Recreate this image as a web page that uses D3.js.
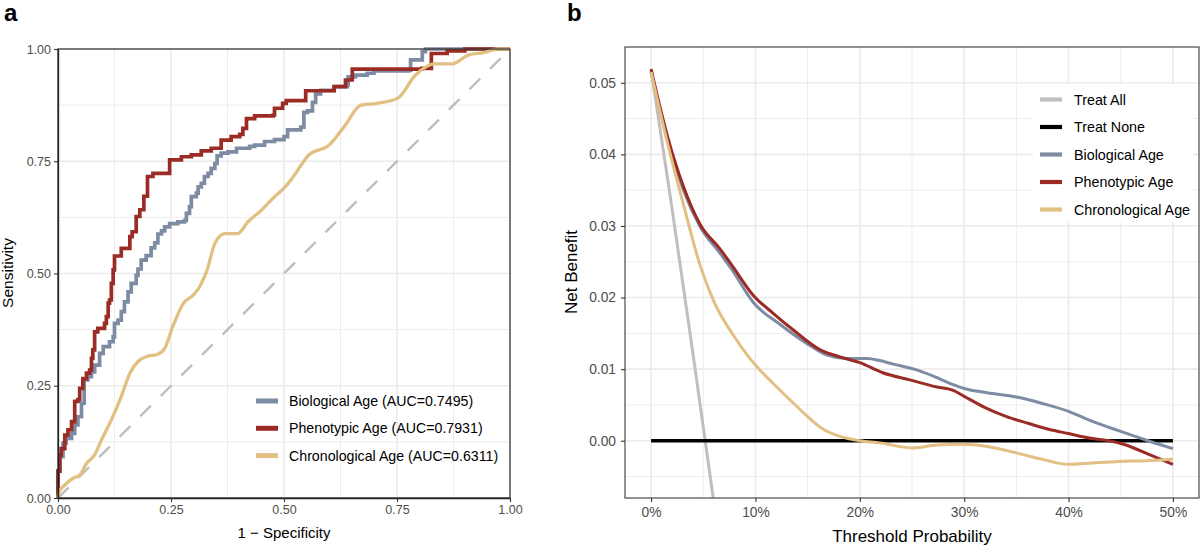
<!DOCTYPE html>
<html>
<head>
<meta charset="utf-8">
<script src="https://cdn.jsdelivr.net/npm/d3@7"></script>
<style>
  body { margin: 0; background: #ffffff; }
  svg { display: block; }
  text { font-family: "Liberation Sans", Arial, Helvetica, sans-serif; }
</style>
</head>
<body>
<script>
// ---------------- DATA ----------------
// Panel a: ROC curves (1 - specificity, sensitivity)
const rocTicks = [0, 0.25, 0.5, 0.75, 1];
const rocMinor = [0.125, 0.375, 0.625, 0.875];

const bioFpr = [0,0,0.004,0.011,0.018,0.030,0.037,0.044,0.052,0.058,0.066,0.074,0.081,0.092,0.100,0.114,0.122,0.125,0.133,0.140,0.147,0.155,0.162,0.173,0.177,0.184,0.195,0.206,0.214,0.221,0.229,0.236,0.247,0.265,0.280,0.284,0.291,0.295,0.306,0.310,0.317,0.324,0.332,0.339,0.347,0.352,0.361,0.376,0.395,0.424,0.435,0.457,0.479,0.500,0.508,0.537,0.544,0.552,0.563,0.570,0.581,0.611,0.640,0.642,0.658,0.684,0.699,0.776,0.780,0.806,0.813,1];
const bioTpr = [0,0.060,0.092,0.122,0.133,0.144,0.163,0.181,0.211,0.263,0.270,0.281,0.296,0.322,0.337,0.348,0.359,0.389,0.396,0.415,0.437,0.459,0.478,0.496,0.510,0.530,0.540,0.557,0.568,0.588,0.595,0.604,0.611,0.615,0.618,0.634,0.649,0.671,0.679,0.693,0.701,0.716,0.723,0.734,0.745,0.762,0.768,0.771,0.779,0.783,0.786,0.794,0.798,0.805,0.820,0.826,0.859,0.862,0.881,0.900,0.908,0.916,0.920,0.938,0.942,0.946,0.951,0.953,0.976,0.994,1,1];

const phenoFpr = [0,0,0.004,0.007,0.015,0.022,0.030,0.037,0.044,0.048,0.055,0.063,0.070,0.074,0.077,0.081,0.088,0.103,0.107,0.111,0.114,0.118,0.122,0.125,0.140,0.159,0.164,0.173,0.181,0.190,0.198,0.210,0.247,0.273,0.295,0.317,0.339,0.361,0.383,0.402,0.409,0.417,0.435,0.476,0.479,0.497,0.505,0.548,0.611,0.636,0.651,0.805,0.826,0.861,0.900,1];
const phenoTpr = [0,0.060,0.096,0.110,0.140,0.152,0.170,0.215,0.219,0.244,0.266,0.278,0.285,0.311,0.330,0.370,0.378,0.389,0.404,0.434,0.441,0.478,0.508,0.539,0.556,0.582,0.593,0.627,0.642,0.672,0.716,0.723,0.753,0.760,0.764,0.773,0.779,0.797,0.805,0.810,0.823,0.845,0.851,0.853,0.868,0.879,0.885,0.907,0.916,0.931,0.955,0.957,0.990,0.996,1,1];

const chronoFpr = [0,0.003,0.015,0.033,0.048,0.063,0.081,0.096,0.118,0.140,0.159,0.177,0.199,0.218,0.236,0.254,0.277,0.299,0.313,0.324,0.330,0.347,0.369,0.398,0.420,0.450,0.479,0.500,0.518,0.555,0.600,0.636,0.670,0.706,0.751,0.791,0.832,0.872,0.909,0.942,0.972,1];
const chronoTpr = [0,0.015,0.029,0.044,0.051,0.077,0.096,0.129,0.174,0.226,0.278,0.304,0.316,0.319,0.333,0.382,0.433,0.452,0.470,0.493,0.508,0.567,0.589,0.589,0.615,0.641,0.671,0.690,0.712,0.764,0.786,0.831,0.875,0.879,0.890,0.942,0.967,0.967,0.987,0.992,1,1];

const rocLabels = ["Biological Age (AUC=0.7495)", "Phenotypic Age (AUC=0.7931)", "Chronological Age (AUC=0.6311)"];

// Panel b: decision curves (threshold probability, net benefit)
const dcaXTicks = [0, 0.1, 0.2, 0.3, 0.4, 0.5];
const dcaXMinor = [0.05, 0.15, 0.25, 0.35, 0.45];
const dcaYTicks = [0, 0.01, 0.02, 0.03, 0.04, 0.05];
const dcaYMinor = [-0.005, 0.005, 0.015, 0.025, 0.035, 0.045];

const allThr = [0, 0.02, 0.04, 0.06];
const allNB  = [0.0519, 0.0325, 0.0123, -0.0085];

const noneThr = [0, 0.5];
const noneNB  = [0, 0];

const bioThr = [0,0.015,0.031,0.047,0.066,0.077,0.098,0.124,0.149,0.168,0.187,0.207,0.219,0.232,0.252,0.271,0.290,0.300,0.322,0.350,0.375,0.400,0.423,0.448,0.474,0.500];
const bioNB  = [0.0515,0.0425,0.0350,0.0299,0.0262,0.0240,0.0193,0.0162,0.0136,0.0120,0.0115,0.0115,0.0112,0.0107,0.0100,0.0090,0.0078,0.0073,0.0067,0.0061,0.0052,0.0041,0.0027,0.0014,0.0001,-0.0011];

const phenoThr = [0,0.015,0.031,0.047,0.066,0.077,0.098,0.117,0.136,0.162,0.181,0.200,0.222,0.248,0.274,0.290,0.300,0.319,0.340,0.362,0.381,0.400,0.423,0.439,0.455,0.477,0.500];
const phenoNB  = [0.0519,0.0429,0.0355,0.0302,0.0268,0.0246,0.0203,0.0178,0.0155,0.0127,0.0117,0.0109,0.0095,0.0085,0.0075,0.0070,0.0062,0.0047,0.0034,0.0024,0.0016,0.0010,0.0003,0.0000,-0.0006,-0.0019,-0.0033];

const chronoThr = [0,0.015,0.031,0.047,0.060,0.079,0.092,0.101,0.117,0.136,0.149,0.165,0.181,0.200,0.219,0.250,0.274,0.299,0.322,0.350,0.375,0.400,0.423,0.448,0.474,0.500];
const chronoNB  = [0.0515,0.0420,0.0330,0.0245,0.0195,0.0147,0.0120,0.0104,0.0080,0.0053,0.0035,0.0016,0.0006,0.0000,-0.0003,-0.0010,-0.0006,-0.0005,-0.0008,-0.0017,-0.0026,-0.0033,-0.0031,-0.0029,-0.0028,-0.0026];

const dcaLabels = ["Treat All", "Treat None", "Biological Age", "Phenotypic Age", "Chronological Age"];

// ---------------- STYLE ----------------
const C_BIO = "#7d8ba3", C_PHENO = "#9b2b25", C_CHRONO = "#e2bf82", C_ALL = "#bfbfbf", C_NONE = "#000000";
const GRID = "#ebebeb";
const TICKTXT = "#4d4d4d";

const svg = d3.select("body").append("svg").attr("width", 1200).attr("height", 547);
svg.append("rect").attr("width", 1200).attr("height", 547).attr("fill", "#fff");

const zip = (xs, ys) => xs.map((x, i) => [x, ys[i]]);

// ================= PANEL A =================
const xA = d3.scaleLinear().domain([0, 1]).range([58, 510]);
const yA = d3.scaleLinear().domain([0, 1]).range([498, 49]);
const gA = svg.append("g");

gA.selectAll(".vminor").data(rocMinor).join("line")
  .attr("x1", d => xA(d)).attr("x2", d => xA(d)).attr("y1", yA(0)).attr("y2", yA(1))
  .attr("stroke", GRID).attr("stroke-width", 0.9);
gA.selectAll(".hminor").data(rocMinor).join("line")
  .attr("y1", d => yA(d)).attr("y2", d => yA(d)).attr("x1", xA(0)).attr("x2", xA(1))
  .attr("stroke", GRID).attr("stroke-width", 0.9);
gA.selectAll(".vmajor").data(rocTicks).join("line")
  .attr("x1", d => xA(d)).attr("x2", d => xA(d)).attr("y1", yA(0)).attr("y2", yA(1))
  .attr("stroke", GRID).attr("stroke-width", 1.6);
gA.selectAll(".hmajor").data(rocTicks).join("line")
  .attr("y1", d => yA(d)).attr("y2", d => yA(d)).attr("x1", xA(0)).attr("x2", xA(1))
  .attr("stroke", GRID).attr("stroke-width", 1.6);

gA.append("line")
  .attr("x1", xA(0)).attr("y1", yA(0)).attr("x2", xA(1)).attr("y2", yA(1))
  .attr("stroke", "#bdbdbd").attr("stroke-width", 2.4).attr("stroke-dasharray", "15,14");

const rocStep = d3.line().x(d => xA(d[0])).y(d => yA(d[1])).curve(d3.curveStepAfter);
const rocSmooth = d3.line().x(d => xA(d[0])).y(d => yA(d[1])).curve(d3.curveMonotoneX);
gA.append("path").datum(zip(bioFpr, bioTpr))
  .attr("d", rocStep).attr("fill", "none")
  .attr("stroke", C_BIO).attr("stroke-width", 3.7);
gA.append("path").datum(zip(phenoFpr, phenoTpr))
  .attr("d", rocStep).attr("fill", "none")
  .attr("stroke", C_PHENO).attr("stroke-width", 3.7);
gA.append("path").datum(zip(chronoFpr, chronoTpr))
  .attr("d", rocSmooth).attr("fill", "none")
  .attr("stroke", C_CHRONO).attr("stroke-width", 3.3);

gA.append("rect").attr("x", xA(0)).attr("y", yA(1))
  .attr("width", xA(1) - xA(0)).attr("height", yA(0) - yA(1))
  .attr("fill", "none").attr("stroke", "#3a3a3a").attr("stroke-width", 1.3);

const axA_x = gA.append("g").attr("transform", `translate(0,${yA(0)})`)
  .call(d3.axisBottom(xA).tickValues(rocTicks).tickFormat(d3.format(".2f")).tickSize(4).tickPadding(3).tickSizeOuter(0));
const axA_y = gA.append("g").attr("transform", `translate(${xA(0)},0)`)
  .call(d3.axisLeft(yA).tickValues(rocTicks).tickFormat(d3.format(".2f")).tickSize(4).tickPadding(3).tickSizeOuter(0));
[axA_x, axA_y].forEach(a => {
  a.select(".domain").attr("stroke", "#222").attr("stroke-width", 1.3);
  a.selectAll(".tick line").attr("stroke", "#333").attr("stroke-width", 1.1);
  a.selectAll(".tick text").attr("fill", TICKTXT).style("font-size", "12.5px")
    .style("font-family", '"Liberation Sans", Arial, sans-serif');
});

svg.append("text").attr("x", 284).attr("y", 538).attr("text-anchor", "middle")
  .style("font-size", "15px").attr("fill", "#000").text("1 \u2212 Specificity");
svg.append("text").attr("transform", "translate(13,273) rotate(-90)").attr("text-anchor", "middle")
  .style("font-size", "15.5px").attr("fill", "#000").text("Sensitivity");

const legA = [C_BIO, C_PHENO, C_CHRONO];
legA.forEach((c, i) => {
  const yy = 401 + i * 27.3;
  svg.append("line").attr("x1", 256).attr("x2", 278).attr("y1", yy).attr("y2", yy)
    .attr("stroke", c).attr("stroke-width", 5);
  svg.append("text").attr("x", 289).attr("y", yy + 5).style("font-size", "14.2px")
    .attr("fill", "#000").text(rocLabels[i]);
});

svg.append("text").attr("x", 4).attr("y", 21).style("font-size", "24px").style("font-weight", "bold").text("a");

// ================= PANEL B =================
const xB = d3.scaleLinear().domain([-0.025, 0.525]).range([625, 1199]);
const yB = d3.scaleLinear().domain([-0.0080, 0.0550]).range([498, 47]);
const gB = svg.append("g");

gB.selectAll(".vminor").data(dcaXMinor).join("line")
  .attr("x1", d => xB(d)).attr("x2", d => xB(d)).attr("y1", 498).attr("y2", 47)
  .attr("stroke", GRID).attr("stroke-width", 0.9);
gB.selectAll(".hminor").data(dcaYMinor).join("line")
  .attr("y1", d => yB(d)).attr("y2", d => yB(d)).attr("x1", 625).attr("x2", 1199)
  .attr("stroke", GRID).attr("stroke-width", 0.9);
gB.selectAll(".vmajor").data(dcaXTicks).join("line")
  .attr("x1", d => xB(d)).attr("x2", d => xB(d)).attr("y1", 498).attr("y2", 47)
  .attr("stroke", GRID).attr("stroke-width", 1.6);
gB.selectAll(".hmajor").data(dcaYTicks).join("line")
  .attr("y1", d => yB(d)).attr("y2", d => yB(d)).attr("x1", 625).attr("x2", 1199)
  .attr("stroke", GRID).attr("stroke-width", 1.6);

svg.append("clipPath").attr("id", "clipB").append("rect")
  .attr("x", 625).attr("y", 47).attr("width", 574).attr("height", 451);

const dcaSmooth = d3.line().x(d => xB(d[0])).y(d => yB(d[1])).curve(d3.curveMonotoneX);
const dcaStraight = d3.line().x(d => xB(d[0])).y(d => yB(d[1]));
const gLines = gB.append("g").attr("clip-path", "url(#clipB)");
gLines.append("path").datum(zip(allThr, allNB))
  .attr("d", dcaSmooth).attr("fill", "none")
  .attr("stroke", C_ALL).attr("stroke-width", 3.0);
gLines.append("path").datum(zip(noneThr, noneNB))
  .attr("d", dcaStraight).attr("fill", "none")
  .attr("stroke", C_NONE).attr("stroke-width", 3.4);
gLines.append("path").datum(zip(bioThr, bioNB))
  .attr("d", dcaSmooth).attr("fill", "none")
  .attr("stroke", C_BIO).attr("stroke-width", 3.0);
gLines.append("path").datum(zip(phenoThr, phenoNB))
  .attr("d", dcaSmooth).attr("fill", "none")
  .attr("stroke", C_PHENO).attr("stroke-width", 3.0);
gLines.append("path").datum(zip(chronoThr, chronoNB))
  .attr("d", dcaSmooth).attr("fill", "none")
  .attr("stroke", C_CHRONO).attr("stroke-width", 3.0);

gB.append("rect").attr("x", 625).attr("y", 47).attr("width", 574).attr("height", 451)
  .attr("fill", "none").attr("stroke", "#4a4a4a").attr("stroke-width", 1.2);

const axB_x = gB.append("g").attr("transform", "translate(0,498)")
  .call(d3.axisBottom(xB).tickValues(dcaXTicks).tickFormat(d3.format(".0%")).tickSize(4).tickPadding(5).tickSizeOuter(0));
const axB_y = gB.append("g").attr("transform", "translate(625,0)")
  .call(d3.axisLeft(yB).tickValues(dcaYTicks).tickFormat(d3.format(".2f")).tickSize(4).tickPadding(5).tickSizeOuter(0));
[axB_x, axB_y].forEach(a => {
  a.select(".domain").attr("stroke", "none");
  a.selectAll(".tick line").attr("stroke", "#333").attr("stroke-width", 1.1);
  a.selectAll(".tick text").attr("fill", TICKTXT).style("font-size", "13.8px")
    .style("font-family", '"Liberation Sans", Arial, sans-serif');
});

svg.append("text").attr("x", 912).attr("y", 542).attr("text-anchor", "middle")
  .style("font-size", "17px").attr("fill", "#000").text("Threshold Probability");
svg.append("text").attr("transform", "translate(577,272) rotate(-90)").attr("text-anchor", "middle")
  .style("font-size", "17px").attr("fill", "#000").text("Net Benefit");

svg.append("rect").attr("x", 1033).attr("y", 84).attr("width", 160).attr("height", 138).attr("fill", "#fff");
const legB = [C_ALL, C_NONE, C_BIO, C_PHENO, C_CHRONO];
legB.forEach((c, i) => {
  const yy = 99.5 + i * 27.5;
  svg.append("line").attr("x1", 1040).attr("x2", 1062).attr("y1", yy).attr("y2", yy)
    .attr("stroke", c).attr("stroke-width", 4.2);
  svg.append("text").attr("x", 1074).attr("y", yy + 5).style("font-size", "14.3px")
    .attr("fill", "#000").text(dcaLabels[i]);
});

svg.append("text").attr("x", 567).attr("y", 21).style("font-size", "24px").style("font-weight", "bold").text("b");
</script>
</body>
</html>
